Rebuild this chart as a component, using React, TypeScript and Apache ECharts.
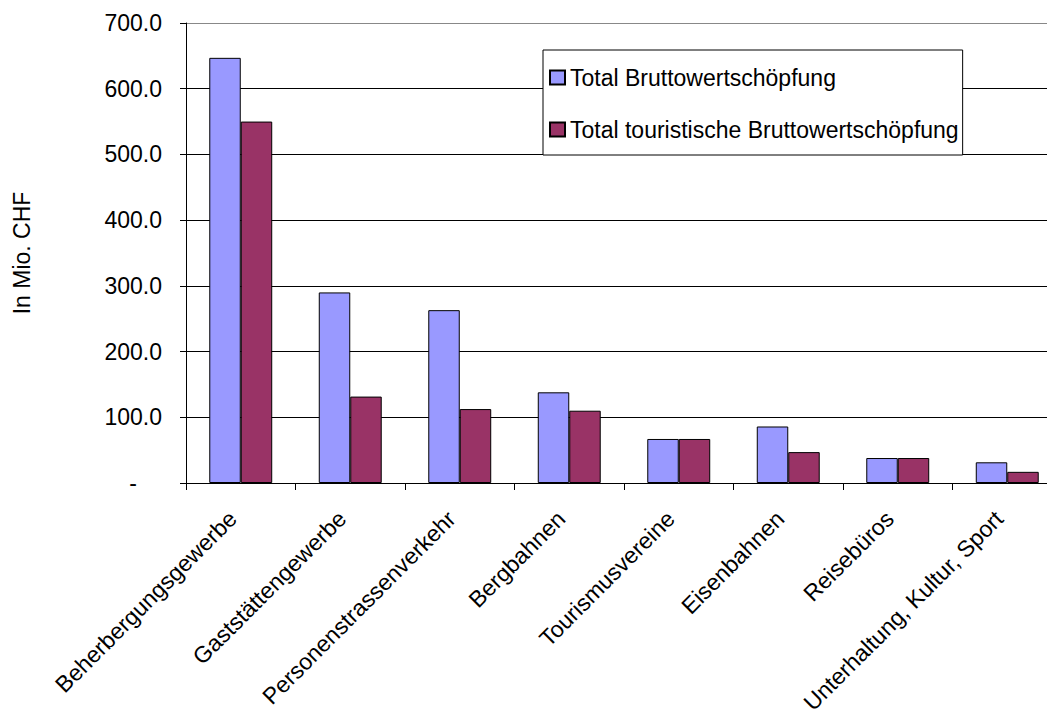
import React, { useEffect, useRef } from "react";
import * as echarts from "echarts";

const categories = [
  "Beherbergungsgewerbe",
  "Gaststättengewerbe",
  "Personenstrassenverkehr",
  "Bergbahnen",
  "Tourismusvereine",
  "Eisenbahnen",
  "Reisebüros",
  "Unterhaltung, Kultur, Sport",
];
const totalBWS = [647, 290, 263, 138, 67, 86, 38, 31.5];
const touristBWS = [550, 131.5, 112.5, 110, 67, 47, 38, 17];
const seriesNames = ["Total Bruttowertschöpfung", "Total touristische Bruttowertschöpfung"];
const yTicks = { min: 0, max: 700, interval: 100 };

const FONT = '"Liberation Sans", Arial, sans-serif';
const FS = 23;

export default function App() {
  const ref = useRef<HTMLDivElement>(null);
  useEffect(() => {
    if (!ref.current) return;
    const chart = echarts.init(ref.current, null, { renderer: "svg" });
    chart.setOption({
      animation: false,
      backgroundColor: "#fff",
      textStyle: { fontFamily: FONT, color: "#000" },
      grid: {
        left: 186,
        top: 23,
        width: 876,
        height: 460,
        containLabel: false,
        outerBoundsMode: "none",
      },
      legend: {
        orient: "vertical",
        left: 543,
        top: 50,
        padding: [16, 4, 14, 6],
        itemGap: 29,
        itemWidth: 15,
        itemHeight: 14,
        borderColor: "#000",
        borderWidth: 1,
        backgroundColor: "#fff",
        icon: "rect",
        textStyle: { fontFamily: FONT, fontSize: FS, color: "#000", lineHeight: 23, padding: [0, 0, 0, 0] },
        data: seriesNames,
      },
      xAxis: {
        type: "category",
        data: categories,
        axisLine: { lineStyle: { color: "#000", width: 1 } },
        axisTick: { show: true, length: 7, lineStyle: { color: "#000" } },
        axisLabel: {
          rotate: 45,
          interval: 0,
          margin: 40,
          verticalAlign: "bottom",
          fontFamily: FONT,
          fontSize: FS,
          color: "#000",
        },
      },
      yAxis: {
        type: "value",
        min: yTicks.min,
        max: yTicks.max,
        interval: yTicks.interval,
        name: "In Mio. CHF",
        nameLocation: "middle",
        nameGap: 153,
        nameTextStyle: { fontFamily: FONT, fontSize: FS, color: "#000" },
        axisLine: { show: true, lineStyle: { color: "#000", width: 1 } },
        axisTick: { show: true, length: 6, lineStyle: { color: "#000" } },
        axisLabel: {
          margin: 24,
          fontFamily: FONT,
          fontSize: FS,
          color: "#000",
          formatter: (v: number) => (v === 0 ? "{d|-}" : v.toFixed(1)),
          rich: { d: { fontFamily: FONT, fontSize: FS, color: "#000", padding: [0, 25, 0, 0] } },
        },
        splitLine: {
          show: true,
          lineStyle: {
            color: ["#000", "#000", "#000", "#000", "#000", "#000", "#000", "#888"],
            width: 1,
          },
        },
      },
      series: [
        {
          name: seriesNames[0],
          type: "bar",
          data: totalBWS,
          barGap: "0%",
          barCategoryGap: "42.5%",
          itemStyle: { color: "#9999FF", borderColor: "#000", borderWidth: 1 },
        },
        {
          name: seriesNames[1],
          type: "bar",
          data: touristBWS,
          barGap: "0%",
          barCategoryGap: "42.5%",
          itemStyle: { color: "#993366", borderColor: "#000", borderWidth: 1 },
        },
      ],
    });
    return () => chart.dispose();
  }, []);
  return (
    <div
      ref={ref}
      style={{ position: "fixed", left: 0, top: 0, width: 1047, height: 711, background: "#fff" }}
    />
  );
}
